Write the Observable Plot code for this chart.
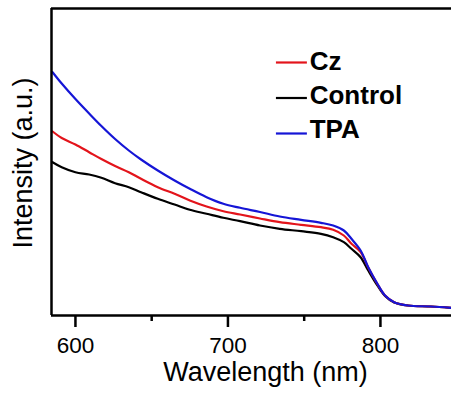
<!DOCTYPE html>
<html>
<head>
<meta charset="utf-8">
<script src="https://cdn.jsdelivr.net/npm/d3@7"></script>
<script src="https://cdn.jsdelivr.net/npm/@observablehq/plot@0.6"></script>
<style>
  html, body { margin: 0; padding: 0; background: #fff; }
  svg { display: block; }
</style>
</head>
<body>
<div id="chart"></div>
<script>
const wavelength = [585, 591, 600, 609, 617, 626, 635, 643, 654, 665, 675, 686, 697, 708, 721, 734, 748, 761, 769, 776, 781, 787, 792, 798, 803, 809, 818, 833, 846];
const cz      = [184, 177.5, 171, 163.3, 156.5, 149.5, 143.3, 136.7, 128.3, 121.7, 115, 109, 104.3, 101, 97, 93.3, 90.7, 88.3, 85.7, 80, 71.7, 63.5, 48, 31.5, 20, 13.3, 10, 9, 7.7];
const control = [153.3, 148.3, 143.3, 141, 137.7, 132.3, 128.3, 123.3, 116.7, 111, 105.7, 101.7, 97.7, 94.3, 90, 86.7, 84.3, 81.7, 78.3, 73.3, 66.7, 58.3, 45, 30, 19.5, 13, 10, 9, 7.7];
const tpa     = [243.3, 232, 216.5, 202, 189.5, 176.5, 165, 156, 145, 135, 126.7, 118.3, 111.7, 107.7, 103.5, 99, 95.7, 92.7, 90, 85, 76.7, 65, 48.3, 31.7, 20, 13.3, 10, 9, 7.7];

const seriesNames = ["Cz", "Control", "TPA"];
const seriesColors = ["#e3141b", "#000000", "#1515d6"];
const majorTicks = [600, 700, 800];
const minorTicks = [650, 750];

const xDomain = [584.3, 846.6];
const yDomain = [0, 307];

const rows = (vals, name) => wavelength.map((w, i) => ({w, v: vals[i], name}));
const drawOrder = [["Control", control], ["Cz", cz], ["TPA", tpa]];

const legend = seriesNames.map((name, i) => ({name, color: seriesColors[i], i}));
const legX1 = 731.8, legX2 = 752.1, legTx = 753.6;
const legTextY = i => 254 - 34 * i;
const legLineY = i => 253 - 35.5 * i;

const font = "Arial, 'Liberation Sans', sans-serif";

const chart = Plot.plot({
  width: 451,
  height: 394,
  marginLeft: 51,
  marginRight: 0,
  marginTop: 8,
  marginBottom: 79,
  style: {fontFamily: font, background: "#fff", overflow: "visible"},
  x: {domain: xDomain},
  y: {domain: yDomain},
  marks: [
    ...drawOrder.map(([name, vals]) =>
      Plot.line(rows(vals, name), {
        x: "w", y: "v",
        stroke: seriesColors[seriesNames.indexOf(name)],
        strokeWidth: 2.2, curve: "catmull-rom"
      })
    ),
    Plot.ruleY([yDomain[0]], {stroke: "#000", strokeWidth: 2.5}),
    Plot.ruleY([yDomain[1]], {stroke: "#000", strokeWidth: 2.5}),
    Plot.ruleX([xDomain[0]], {stroke: "#000", strokeWidth: 2.5}),
    Plot.axisX({ticks: majorTicks, tickSize: 12, tickPadding: 10, strokeWidth: 2.5,
      tickFormat: d => String(d), fontSize: 22.5, label: null, fill: "#000"}),
    Plot.axisX({ticks: minorTicks, tickSize: 6, strokeWidth: 2.5, tickFormat: () => "", label: null}),
    Plot.axisY({ticks: [], label: null}),
    Plot.text(["Wavelength (nm)"], {frameAnchor: "bottom", dx: 14, dy: 57, lineAnchor: "middle",
      fontSize: 27, fill: "#000", text: d => d}),
    Plot.text(["Intensity (a.u.)"], {frameAnchor: "left", dx: -28, dy: 1, rotate: -90,
      textAnchor: "middle", fontSize: 27, fill: "#000", text: d => d, lineAnchor: "middle"}),
    Plot.ruleY(legend, {x1: () => legX1, x2: () => legX2, y: d => legLineY(d.i), stroke: d => d.color, strokeWidth: 2.2}),
    Plot.text(legend, {x: () => legTx, y: d => legTextY(d.i), text: "name", textAnchor: "start",
      fontSize: 26, fontWeight: "bold", fill: "#000", lineAnchor: "middle"})
  ]
});
document.getElementById("chart").appendChild(chart);
</script>
</body>
</html>
